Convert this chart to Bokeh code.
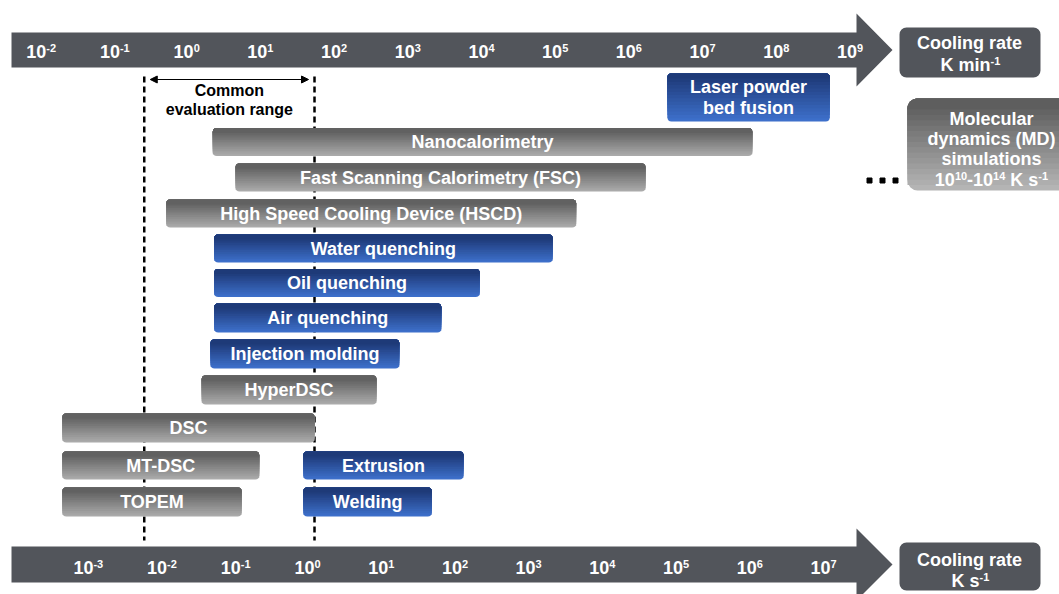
from bokeh.plotting import figure
from bokeh.models import Range1d, Arrow, NormalHead
from bokeh.core.properties import value
from bokeh.embed import file_html
from bokeh.resources import INLINE

# ---------------- data (cooling rates as log10 of K s^-1) ----------------
methods = ["Laser powder\nbed fusion", "Nanocalorimetry", "Fast Scanning Calorimetry (FSC)",
           "High Speed Cooling Device (HSCD)", "Water quenching", "Oil quenching",
           "Air quenching", "Injection molding", "HyperDSC", "DSC", "MT-DSC", "TOPEM",
           "Extrusion", "Welding"]
log_rate_low = [4.79, -1.38, -1.07, -2.01, -1.36, -1.36, -1.36, -1.41, -1.53, -3.42, -3.42, -3.42, -0.15, -0.15]
log_rate_high = [6.99, 5.94, 4.49, 3.55, 3.23, 2.24, 1.72, 1.15, 0.84, 0.0, -0.75, -0.99, 2.02, 1.59]
kind = ["process", "lab", "lab", "lab", "process", "process", "process", "process",
        "lab", "lab", "lab", "lab", "process", "process"]
row = [0, 1, 2, 3, 4, 5, 6, 7, 8, 9, 10, 11, 10, 11]

top_exponents = list(range(-2, 10))      # K min^-1
bottom_exponents = list(range(-3, 8))    # K s^-1
common_range = [-2.31, 0.0]              # log10 K s^-1
md_lines = ["Molecular", "dynamics (MD)", "simulations"]
md_range = ("10", "-10", "14")           # 10^10 - 10^14 K s^-1

# ---------------- layout ----------------
W, H = 1059, 594
ORIGIN_PX, DEC_PX = 314.0, 73.7          # pixel of 10^0 K/s and pixels per decade
TOP_SHIFT = 1.64                         # drawn offset of the K/min scale (decades)

def X(px):
    return (px - ORIGIN_PX) / DEC_PX

def Y(py):
    return 594.0 - py

ROW_Y = [97, 141.5, 177, 213, 248, 282.5, 317.5, 353.5, 389.5, 427.5, 465, 501.5]
ROW_H = [48, 28, 28, 28, 28, 28, 29, 29, 29, 29, 28, 29]

FONT = value("Liberation Sans")
DARK = "#52555b"
COLORS = {"lab": ("#616161", "#aaaaaa"), "process": ("#1e3a78", "#3d6fca")}

p = figure(width=W, height=H, x_range=Range1d(X(0), X(W)), y_range=Range1d(Y(H), Y(0)),
           output_backend="svg", toolbar_location=None, min_border=0,
           x_axis_type=None, y_axis_type=None, outline_line_color=None)
p.grid.visible = False
p.background_fill_color = "white"
p.border_fill_color = "white"


def hexmix(c1, c2, t):
    a = [int(c1[i:i + 2], 16) for i in (1, 3, 5)]
    b = [int(c2[i:i + 2], 16) for i in (1, 3, 5)]
    return "#" + "".join("%02x" % round(a[i] + (b[i] - a[i]) * t) for i in range(3))


def grad_boxes(lefts, rights, tops, bottoms, c_top, c_bot, radius, n=14):
    # vertical gradient: successive opaque boxes anchored at the top, getting shorter and darker
    minh = radius + 1
    for k in range(n):
        t = k / (n - 1)
        col = hexmix(c_bot, c_top, t)
        r = radius if k == 0 else (radius, radius, 0, 0)
        bots = []
        for tp, bt in zip(tops, bottoms):
            hh = (bt - tp) - ((bt - tp) - minh) * t
            bots.append(Y(tp + hh))
        p.quad(left=lefts, right=rights, top=[Y(tp) for tp in tops], bottom=bots,
               fill_color=col, line_color=None, border_radius=r)


# dashed lines of the common evaluation range (behind bars)
for xv in common_range:
    p.line([xv, xv], [Y(76), Y(540)], line_color="black", line_width=2.5, line_dash="6 4")

# bars
for kd in ("lab", "process"):
    idx = [i for i, k in enumerate(kind) if k == kd]
    grad_boxes([log_rate_low[i] for i in idx], [log_rate_high[i] for i in idx],
               [ROW_Y[row[i]] - ROW_H[row[i]] / 2 for i in idx],
               [ROW_Y[row[i]] + ROW_H[row[i]] / 2 for i in idx],
               COLORS[kd][0], COLORS[kd][1], 4)

# bar labels
lx, ly, lt = [], [], []
for i, name in enumerate(methods):
    lines = name.split("\n")
    cx = (log_rate_low[i] + log_rate_high[i]) / 2
    for j, ln in enumerate(lines):
        lx.append(cx)
        ly.append(Y(ROW_Y[row[i]] + (j - (len(lines) - 1) / 2) * 21))
        lt.append(ln)
p.text(lx, ly, text=lt, text_align="center", text_baseline="middle", text_font=FONT,
       text_font_style="bold", text_font_size="18px", text_color="white")

# top arrow (K/min)
p.patch([X(11), X(856), X(856), X(892), X(856), X(856), X(11)],
        [Y(32), Y(32), Y(13), Y(49.5), Y(86), Y(67), Y(67)], fill_color=DARK, line_color=None)
# bottom arrow (K/s)
p.patch([X(11), X(856), X(856), X(892), X(856), X(856), X(11)],
        [Y(546), Y(546), Y(528), Y(564), Y(600), Y(582), Y(582)], fill_color=DARK, line_color=None)

# tick labels
tx = [n - TOP_SHIFT for n in top_exponents]
p.text(tx, [Y(51)] * len(tx), text=["10"] * len(tx), text_align="right", text_baseline="middle",
       text_font=FONT, text_font_style="bold", text_font_size="18px", text_color="white")
p.text(tx, [Y(47)] * len(tx), text=[str(n) for n in top_exponents], text_align="left",
       text_baseline="middle", text_font=FONT, text_font_style="bold", text_font_size="11px",
       text_color="white")
bx = [float(n) for n in bottom_exponents]
p.text(bx, [Y(567)] * len(bx), text=["10"] * len(bx), text_align="right", text_baseline="middle",
       text_font=FONT, text_font_style="bold", text_font_size="18px", text_color="white")
p.text(bx, [Y(563)] * len(bx), text=[str(n) for n in bottom_exponents], text_align="left",
       text_baseline="middle", text_font=FONT, text_font_style="bold", text_font_size="11px",
       text_color="white")

# unit boxes
p.quad(left=[X(899), X(899)], right=[X(1040), X(1040)], top=[Y(27), Y(542)], bottom=[Y(77), Y(590)],
       fill_color=DARK, line_color=None, border_radius=7)
p.text([X(969), X(969)], [Y(42), Y(559)], text=["Cooling rate", "Cooling rate"], text_align="center",
       text_baseline="middle", text_font=FONT, text_font_style="bold", text_font_size="18px",
       text_color="white")
p.text([X(990), X(979)], [Y(64), Y(580)], text=["K min", "K s"], text_align="right",
       text_baseline="middle", text_font=FONT, text_font_style="bold", text_font_size="18px",
       text_color="white")
p.text([X(990), X(979)], [Y(60), Y(576)], text=["-1", "-1"], text_align="left",
       text_baseline="middle", text_font=FONT, text_font_style="bold", text_font_size="11px",
       text_color="white")

# MD simulations box
grad_boxes([X(907)], [X(1090)], [98], [190], "#5e5e5e", "#b4b4b4", 10, n=16)
MD_CX = 991
p.text([X(MD_CX)] * 3, [Y(118), Y(138), Y(158)], text=md_lines, text_align="center",
       text_baseline="middle", text_font=FONT, text_font_style="bold", text_font_size="18px",
       text_color="white")
# last line: 10^10-10^14 K s^-1 assembled from pieces (gap = explicit space width)
fs, ss = 18, 11
em = {"1": .556, "0": .556, "4": .556, "-": .333, "K": .722, "s": .556, " ": .278}
pieces = [("10", fs, 0), (md_range[0], ss, 0), (md_range[1], fs, 0), (md_range[2], ss, 0),
          ("K s", fs, em[" "] * fs), ("-1", ss, 0)]
widths = [sum(em[c] for c in t) * s + g for t, s, g in pieces]
xpos = MD_CX - sum(widths) / 2
for (t, s, g), w in zip(pieces, widths):
    p.text([X(xpos + g)], [Y(179 if s == fs else 175)], text=[t], text_align="left",
           text_baseline="middle", text_font=FONT, text_font_style="bold",
           text_font_size="%dpx" % s, text_color="white")
    xpos += w

# dots
p.scatter([X(869), X(882), X(895)], [Y(180)] * 3, marker="square", size=5, color="black")

# common evaluation range annotation
inset = 6 / DEC_PX
p.add_layout(Arrow(x_start=common_range[0] + inset, y_start=Y(79), x_end=common_range[1] - inset,
                   y_end=Y(79), line_width=1, line_color="black",
                   start=NormalHead(size=7, fill_color="black", line_color="black"),
                   end=NormalHead(size=7, fill_color="black", line_color="black")))
cmid = (common_range[0] + common_range[1]) / 2
p.text([cmid, cmid], [Y(90), Y(109)], text=["Common", "evaluation range"], text_align="center",
       text_baseline="middle", text_font=FONT, text_font_style="bold", text_font_size="16px",
       text_color="black")

open("out.html", "w").write(file_html(p, INLINE))
